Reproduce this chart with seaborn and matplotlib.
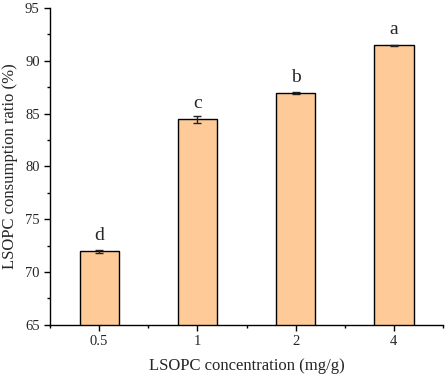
import matplotlib
matplotlib.use('Agg')
import matplotlib.pyplot as plt
import seaborn as sns
import numpy as np
import pandas as pd
from matplotlib.ticker import MultipleLocator, FixedLocator

concentrations = ['0.5', '1', '2', '4']
ratio = [71.95, 84.45, 86.95, 91.45]
ratio_err = [0.12, 0.30, 0.12, 0.05]
letters = ['d', 'c', 'b', 'a']

sns.set_style('ticks')
plt.rcParams['font.family'] = ['Liberation Serif', 'DejaVu Serif']

df = pd.DataFrame({'conc': concentrations, 'ratio': ratio})

fig = plt.figure(figsize=(4.47, 3.76), dpi=100)
ax = fig.add_axes([0.112, 0.136, 0.879, 0.843])

sns.barplot(data=df, x='conc', y='ratio', color='#FDCA98', saturation=1,
            width=0.4, edgecolor='black', linewidth=1, errorbar=None, ax=ax)
ax.errorbar(np.arange(len(ratio)), ratio, yerr=ratio_err, fmt='none',
            ecolor='#222222', elinewidth=1, capsize=3, capthick=1)

for i, (v, e, lab) in enumerate(zip(ratio, ratio_err, letters)):
    ax.annotate(lab, (i, v), xytext=(0, 5), textcoords='offset points',
                ha='center', va='bottom', fontsize=14)

ax.set_ylim(65, 95)
ax.set_xlim(-0.5, 3.5)
ax.yaxis.set_major_locator(MultipleLocator(5))
ax.yaxis.set_minor_locator(MultipleLocator(2.5))
ax.xaxis.set_minor_locator(FixedLocator([-0.5, 0.5, 1.5, 2.5, 3.5]))
ax.tick_params(axis='both', which='major', length=4, width=1, labelsize=10.5, color='black')
ax.tick_params(axis='both', which='minor', length=2, width=1, color='black')

ax.set_xlabel('LSOPC concentration (mg/g)', fontsize=12, labelpad=7)
ax.set_ylabel('LSOPC consumption ratio (%)', fontsize=12, labelpad=5)

for s in ['left', 'bottom']:
    ax.spines[s].set_linewidth(1)
    ax.spines[s].set_color('black')
sns.despine(ax=ax)

fig.savefig('out.png', dpi=100)
